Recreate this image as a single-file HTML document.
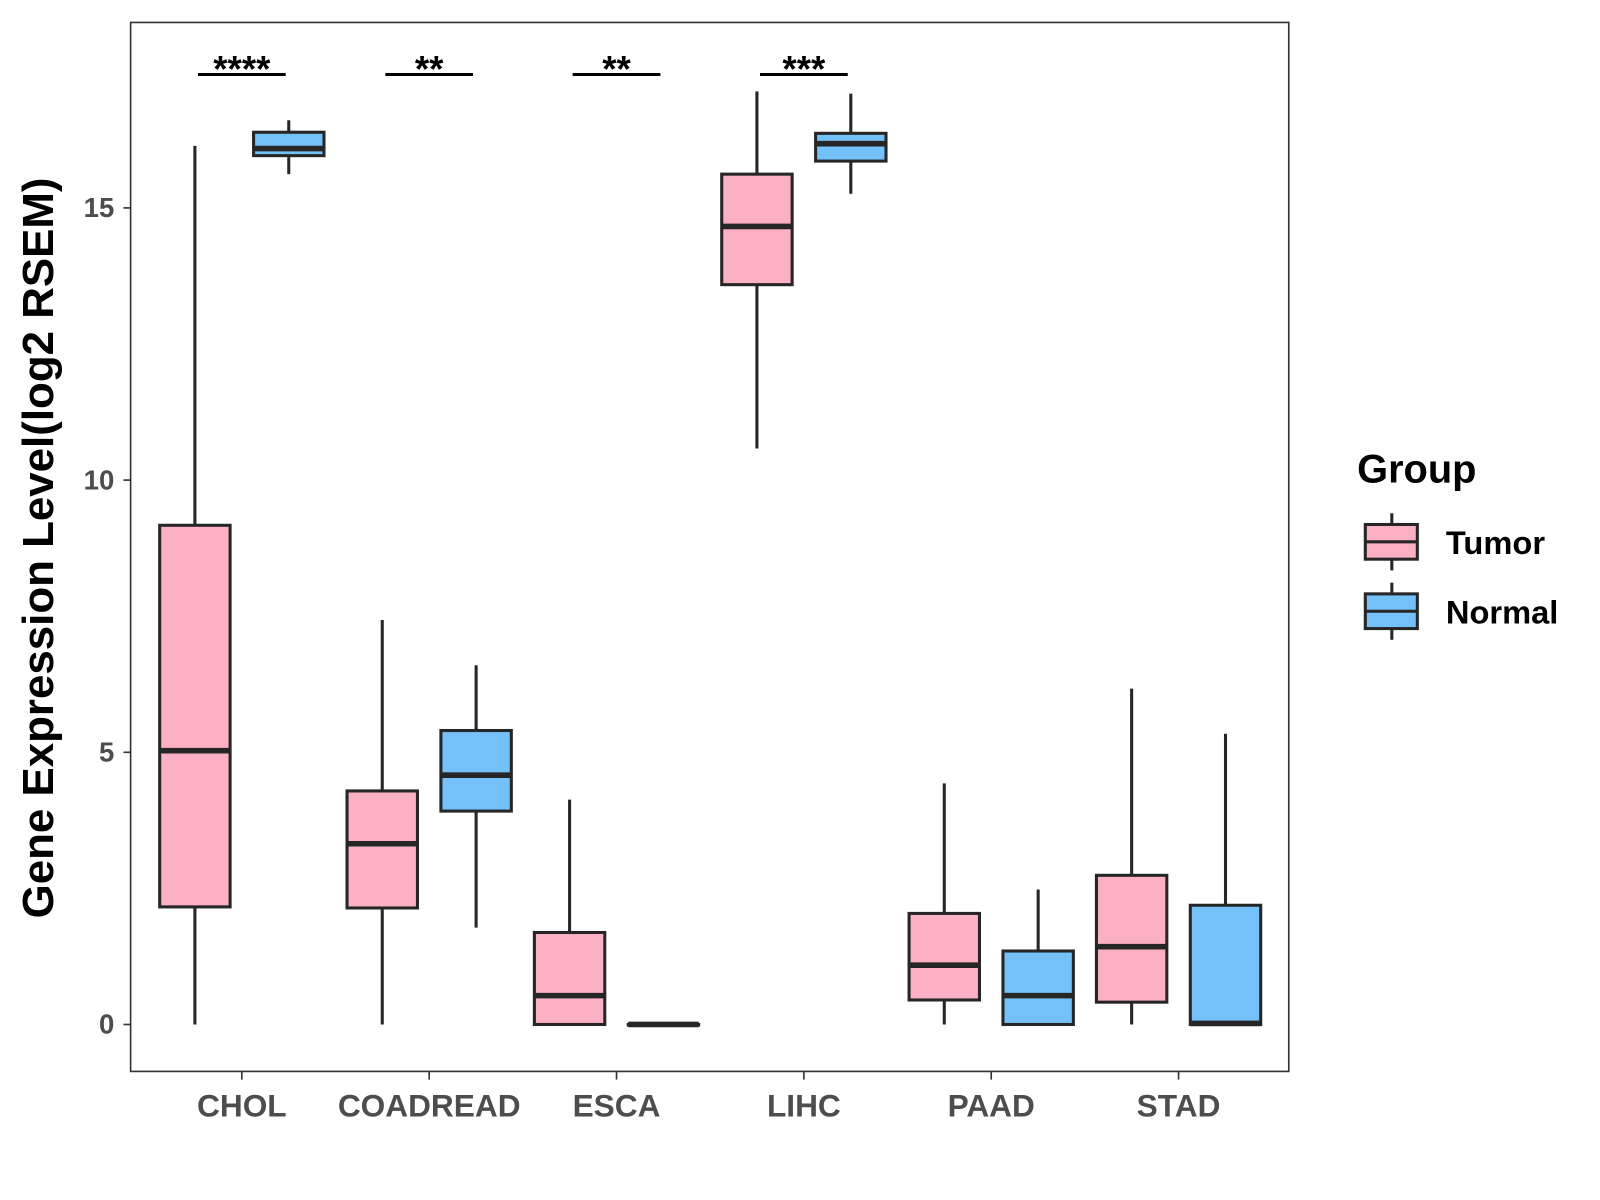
<!DOCTYPE html>
<html><head><meta charset="utf-8"><style>
html,body{margin:0;padding:0;background:#fff;width:1600px;height:1200px;overflow:hidden}
svg text{font-family:"Liberation Sans",Arial,sans-serif;font-weight:bold}
</style></head><body>
<svg id="chart" width="1600" height="1200" xmlns="http://www.w3.org/2000/svg">
<g transform="scale(1.0204)">
<rect x="128" y="22" width="1135" height="1028" fill="none" stroke="#333" stroke-width="1.6"/>
<g id="marks"></g>
<text transform="translate(52,537) rotate(-90)" text-anchor="middle" font-size="43" fill="#000">Gene Expression Level(log2 RSEM)</text>
<text x="1330" y="473" font-size="39" fill="#000">Group</text>
<g>
<line x1="1364" y1="503" x2="1364" y2="559" stroke="#262626" stroke-width="3"/>
<rect x="1338" y="514" width="51" height="34" fill="#FBB1C3" stroke="#262626" stroke-width="3"/>
<line x1="1338" y1="531" x2="1389" y2="531" stroke="#262626" stroke-width="3"/>
<text x="1417" y="543" font-size="32" fill="#000">Tumor</text></g>
<g>
<line x1="1364" y1="571" x2="1364" y2="627" stroke="#262626" stroke-width="3"/>
<rect x="1338" y="582" width="51" height="34" fill="#74C0F8" stroke="#262626" stroke-width="3"/>
<line x1="1338" y1="599" x2="1389" y2="599" stroke="#262626" stroke-width="3"/>
<text x="1417" y="611" font-size="32" fill="#000">Normal</text></g>
</g>
</svg>
<script>
const categories=["CHOL","COADREAD","ESCA","LIHC","PAAD","STAD"];
const tumorStats=[[0,2.16,5.03,9.17,16.14],[0,2.14,3.32,4.29,7.43],[0,0,0.53,1.69,4.13],[10.58,13.59,14.66,15.62,17.14],[0,0.45,1.09,2.04,4.43],[0,0.41,1.43,2.74,6.17]];
const normalStats=[[15.62,15.96,16.09,16.39,16.61],[1.78,3.92,4.58,5.4,6.6],[0,0,0,0,0],[15.26,15.86,16.18,16.37,17.1],[0,0,0.53,1.35,2.48],[0,0,0.02,2.19,5.34]];
const signif=["****","**","**","***","",""];
const yTicks=[0,5,10,15];
const NS="http://www.w3.org/2000/svg";
const g=document.getElementById('marks');
const yS=v=>1004-v*53.35;
const xS=i=>237+i*183.6;
function mk(t,a,p){const e=document.createElementNS(NS,t);for(const k in a)e.setAttribute(k,a[k]);(p||g).appendChild(e);return e;}
yTicks.forEach(t=>{
 const l=mk('line',{x1:121,x2:128,y1:yS(t),y2:yS(t),stroke:'#333','stroke-width':1.6});
 
 
 const tx=mk('text',{x:112,y:yS(t)+9,'text-anchor':'end','font-size':27,fill:'#4d4d4d'});tx.textContent=t;
 
 
});
categories.forEach((c,i)=>{
 const x=xS(i);
 const l=mk('line',{x1:x,x2:x,y1:1050,y2:1058,stroke:'#333','stroke-width':1.6});
 
 
 const tx=mk('text',{x:x,y:1094,'text-anchor':'middle','font-size':31,fill:'#4d4d4d'});tx.textContent=c;
 
 
 [[tumorStats[i],-46,'#FBB1C3','tumor'],[normalStats[i],46,'#74C0F8','normal']].forEach(([s,off,col,nm])=>{
  const cx=x+off,w=69;
  const bg=mk('g',{});
  
  
  mk('line',{x1:cx,x2:cx,y1:yS(s[0]),y2:yS(s[4]),stroke:'#262626','stroke-width':3},bg);
  mk('rect',{x:cx-w/2,y:yS(s[3]),width:w,height:Math.max(yS(s[1])-yS(s[3]),0.5),fill:col,stroke:'#262626','stroke-width':3},bg);
  mk('line',{x1:cx-w/2,x2:cx+w/2,y1:yS(s[2]),y2:yS(s[2]),stroke:'#262626','stroke-width':5.5},bg);
 });
 if(signif[i]){
  const b=mk('line',{x1:x-43,x2:x+43,y1:73,y2:73,stroke:'#000','stroke-width':3});
  
  
  const st=mk('text',{x:x,y:80,'text-anchor':'middle','font-size':36,fill:'#000'});st.textContent=signif[i];
  
  
 }
});
</script>
</body></html>
